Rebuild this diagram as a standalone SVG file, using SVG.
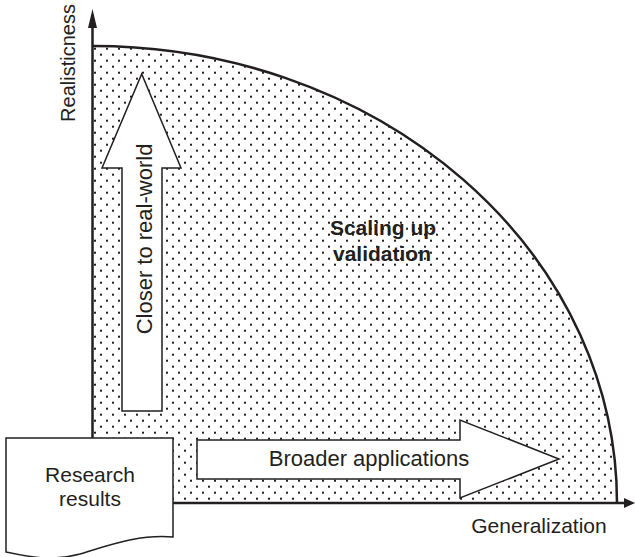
<svg xmlns="http://www.w3.org/2000/svg" width="635" height="557" viewBox="0 0 635 557">
  <style>
    .ink { stroke: #231f20; fill: none; }
    .shape { stroke: #231f20; stroke-width: 1.5; fill: #ffffff; stroke-linejoin: miter; }
    .lbl { font-family: "Liberation Sans", Arial, sans-serif; fill: #231f20; }
  </style>
  <defs>
    <pattern id="dots" patternUnits="userSpaceOnUse" x="0" y="-0.3" width="12" height="12">
      <rect x="4" y="6" width="2" height="2" fill="#231f20"/>
      <rect x="10" y="0" width="2" height="2" fill="#231f20"/>
    </pattern>
  </defs>

  <rect width="635" height="557" fill="#ffffff"/>

  <!-- scaling-up region: quarter ellipse filled with dots -->
  <g id="region">
    <path d="M93,503 V46 A524,457 0 0 1 617,503 Z" fill="url(#dots)"/>
    <path d="M93,46 A524,457 0 0 1 617,503" class="ink" stroke-width="2.5"/>
    <text class="lbl" x="383" y="235" font-size="21" font-weight="bold" text-anchor="middle">Scaling up</text>
    <text class="lbl" x="382" y="261" font-size="21" font-weight="bold" text-anchor="middle">validation</text>
  </g>

  <!-- axes -->
  <g id="axes">
    <line x1="92.5" y1="438" x2="92.5" y2="26" class="ink" stroke-width="2.5"/>
    <polygon points="92.5,9 88,28 97,28" fill="#231f20"/>
    <line x1="173" y1="503" x2="625" y2="503" class="ink" stroke-width="2.5"/>
    <polygon points="635,503 624,498 624,508" fill="#231f20"/>
    <text class="lbl" font-size="20" text-anchor="middle" transform="translate(75,63) rotate(-90)">Realisticness</text>
    <text class="lbl" x="539" y="533" font-size="21" text-anchor="middle">Generalization</text>
  </g>

  <!-- block arrows -->
  <g id="closer">
    <polygon class="shape" points="122,411 122,168 102,168 141.7,74 181,168 162,168 162,411"/>
    <text class="lbl" font-size="22" text-anchor="middle" transform="translate(152,239) rotate(-90)">Closer to real-world</text>
  </g>
  <g id="broader">
    <polygon class="shape" points="197,440 460,440 460,420 559,459 460,498 460,479 197,479"/>
    <text class="lbl" x="369" y="466" font-size="22" text-anchor="middle">Broader applications</text>
  </g>

  <!-- research results document -->
  <g id="research">
    <path class="shape" d="M6,438 H173 V537 C140,534 110,545 80,554 C50,562 25,556 6,552 Z"/>
    <text class="lbl" x="90" y="482" font-size="21" text-anchor="middle">Research</text>
    <text class="lbl" x="90" y="506" font-size="21" text-anchor="middle">results</text>
  </g>
</svg>
